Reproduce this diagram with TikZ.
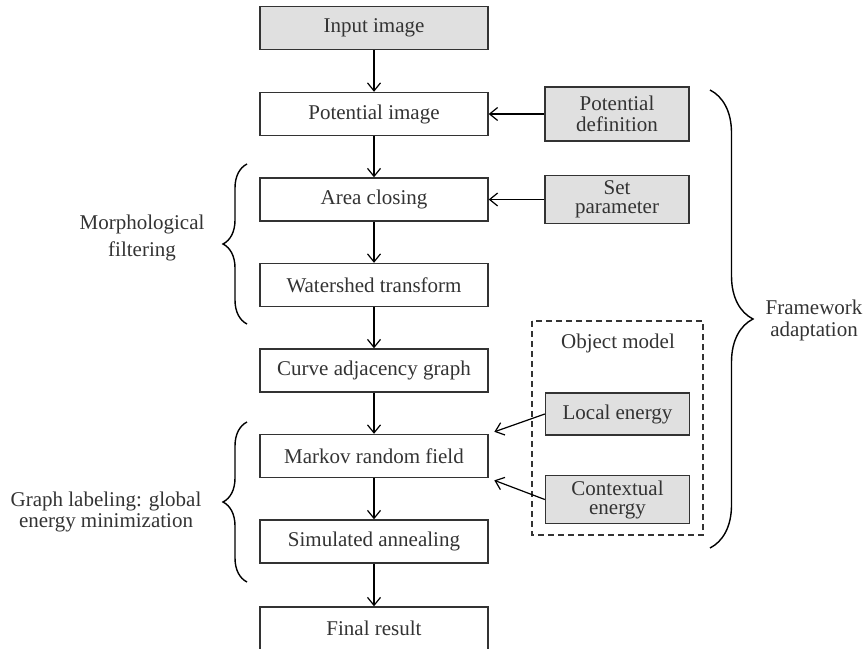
\documentclass[tikz,border=0pt]{standalone}
\usepackage{fontspec}
\setmainfont{Liberation Serif}
\usetikzlibrary{arrows.meta,decorations.pathreplacing}
\definecolor{boxgray}{gray}{0.88}
\definecolor{inkgray}{gray}{0.2}
\tikzset{
  every node/.style={font=\fontsize{10.5}{10.5}\selectfont, text=inkgray},
  stage/.style={draw=inkgray, line width=0.7pt, minimum width=114pt, minimum height=21.5pt, inner sep=0pt},
  inbox/.style={stage, fill=boxgray},
  param/.style={draw=inkgray, fill=boxgray, line width=0.7pt, minimum width=72pt, align=center, inner sep=0pt},
  note/.style={align=center, inner sep=0pt},
  flow/.style={-{Straight Barb[length=4pt,width=6.5pt]}, line width=0.6pt},
  curly/.style={decorate, decoration={brace, amplitude=#1}, line width=0.7pt},
}
\begin{document}
\begin{tikzpicture}[x=0.5pt, y=-0.5pt]
    \useasboundingbox (0,0) rectangle (866,648);
    % main chain
    \node[inbox] (input) at (374,28) {Input image};
    \node[stage] (potimg) at (374,114) {Potential image};
    \node[stage] (area) at (374,199.5) {Area closing};
    \node[stage] (water) at (374,285) {Watershed transform};
    \node[stage] (curve) at (374,370.5) {Curve adjacency graph};
    \node[stage] (markov) at (374,456) {Markov random field};
    \node[stage] (anneal) at (374,541.5) {Simulated annealing};
    \node[stage] (final) at (374,628.5) {Final result};
    \draw[flow] (input) -- (potimg);
    \draw[flow] (potimg) -- (area);
    \draw[flow] (area) -- (water);
    \draw[flow] (water) -- (curve);
    \draw[flow] (curve) -- (markov);
    \draw[flow] (markov) -- (anneal);
    \draw[flow] (anneal) -- (final);
    % side inputs
    \node[param, minimum height=27pt] (potdef) at (617,114) {Potential\\definition};
    \node[param, minimum height=24pt] (setpar) at (617,199.5) {Set\\[-1pt]parameter};
    \draw[flow] (potdef) -- (potimg);
    \draw[flow] (setpar) -- (area);
    % object model
    \draw[inkgray, line width=0.6pt, dash pattern=on 3pt off 2pt] (532,321) rectangle (703,535);
    \node[note] (objmod) at (618,343) {Object model};
    \node[param, minimum height=21pt] (locen) at (617.5,414) {Local energy};
    \node[param, minimum height=24pt] (conten) at (617.5,499.5) {Contextual\\[-1pt]energy};
    \draw[flow, shorten >=3pt] (locen.west) -- (markov.north east);
    \draw[flow, shorten >=3pt] (conten.west) -- (markov.south east);
    % braces
    \draw[curly=12pt] (247,324) -- (247,164);
    \node[note] (morph) at (142,238) {Morphological\\[3pt]filtering};
    \draw[curly=12pt] (247,582) -- (247,422);
    \node[note] (graphlab) at (106,512) {Graph labeling: global\\energy minimization};
    \draw[curly=21.5pt] (710,90) -- (710,548);
    \node[note] (frame) at (814,320) {Framework\\[0.5pt]adaptation};
\end{tikzpicture}
\end{document}
